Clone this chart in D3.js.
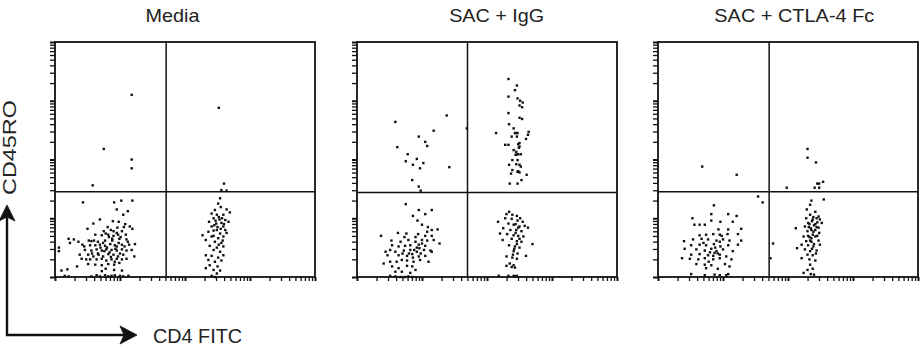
<!DOCTYPE html>
<html><head><meta charset="utf-8">
<script src="https://cdn.jsdelivr.net/npm/d3@7"></script>
<style>html,body{margin:0;padding:0;background:#fff;}svg{display:block;}</style>
</head><body>
<svg id="chart" width="924" height="352"></svg>
<script>
// ---------- data (log10 fluorescence, decades 0-4) ----------
const panelTitles = ["Media", "SAC + IgG", "SAC + CTLA-4 Fc"];
const xAxisLabel = "CD4 FITC";
const yAxisLabel = "CD45RO";
const decadeRange = [0, 4];
const quadrantX = [1.71, 1.70, 1.71];
const quadrantY = [1.45, 1.44, 1.45];

const mediaPoints = [
 // upper quadrants
 [1.18,3.10],[0.75,2.18],[1.18,2.00],[1.18,1.85],[0.58,1.56],[2.52,2.88],[2.60,1.59],[2.56,1.48],[2.64,1.47],
 // lower left
 [.43,1.27],[.91,1.27],[1.02,1.30],[1.19,1.30],[.95,1.15],[1.12,1.12],[1.05,1.06],[.69,.98],[.59,.91],[.89,.95],[.98,.94],
 [.50,.82],[.81,.85],[1.06,.85],[1.15,.86],[1.19,.82],[.75,.78],[.90,.78],[.95,.75],[1.03,.78],[.62,.72],[.72,.71],[.82,.72],
 [.97,.72],[1.09,.72],[.21,.65],[.29,.64],[.23,.58],[.36,.60],[.42,.55],[.56,.61],[.66,.60],[.77,.62],[.88,.65],[.99,.65],
 [1.10,.64],[.54,.54],[.62,.54],[.69,.55],[.77,.53],[.85,.56],[.92,.54],[1.03,.55],[1.14,.55],[1.23,.56],[.06,.50],[.06,.44],
 [.46,.46],[.56,.45],[.64,.47],[.72,.45],[.79,.47],[.87,.46],[.95,.45],[1.03,.47],[1.10,.45],[1.18,.46],[.38,.38],[.51,.38],
 [.59,.35],[.67,.38],[.74,.35],[.82,.39],[.90,.38],[.97,.35],[1.05,.38],[1.22,.35],[.41,.31],[.54,.30],[.64,.30],[.72,.31],
 [.79,.28],[.87,.30],[.95,.31],[1.03,.30],[1.10,.31],[.51,.22],[.62,.21],[.72,.20],[.82,.22],[.91,.21],[.34,.18],[.78,.14],
 [.10,.11],[.19,.13],[.72,.10],[.91,.12],[1.03,.11],[.15,.02],[.21,.01],[.56,.01],[.64,.03],[.69,.01],[.77,.03],[.82,.01],
 [.87,.02],[.92,.03],[1.00,.02],[1.05,.01],[1.13,.02],
 [.80,.50],[.84,.42],[.88,.62],[.93,.48],[.98,.58],[1.00,.40],[1.07,.52],[.76,.44],[.70,.50],[.66,.40],[.86,.34],[.92,.26],
 [.99,.24],[.83,.68],[.90,.70],[1.01,.68],[.60,.62],[.74,.58],[.95,.52],[1.12,.60],[.57,.40],[.48,.30],[.45,.52],[.52,.62],
 [.78,.74],[.86,.80],[1.08,.90],[.96,.84],
 // lower right
 [2.54,1.34],[2.51,1.25],[2.55,1.19],[2.46,1.14],[2.64,1.15],[2.41,1.08],[2.49,1.06],[2.59,1.06],[2.69,1.10],[2.44,1.00],
 [2.53,.98],[2.62,.97],[2.37,.94],[2.48,.91],[2.56,.92],[2.67,.94],[2.41,.86],[2.50,.85],[2.59,.86],[2.36,.77],[2.44,.79],
 [2.54,.74],[2.64,.75],[2.27,.71],[2.41,.69],[2.51,.66],[2.59,.69],[2.32,.63],[2.46,.60],[2.56,.58],[2.38,.53],[2.49,.50],
 [2.59,.52],[2.44,.46],[2.54,.43],[2.32,.37],[2.41,.36],[2.51,.33],[2.59,.37],[2.36,.29],[2.46,.26],[2.56,.28],[2.38,.20],
 [2.50,.18],[2.32,.15],[2.44,.12],[2.54,.11],[2.49,.06],[2.41,.02],[2.46,0],
 [2.52,1.02],[2.57,1.00],[2.47,.96],[2.60,.90],[2.45,.88],[2.55,.82],[2.49,.80],[2.62,.80],[2.58,.62],[2.52,.55],[2.44,.70]
];

const sacIgGPoints = [
 // upper left
 [.59,2.64],[1.38,2.75],[1.18,2.49],[.62,2.21],[.95,2.39],[1.05,2.30],[1.08,2.23],[.78,2.09],[.92,2.01],[.75,1.97],[.86,1.91],
 [1.02,1.94],[.97,1.85],[1.42,1.87],[.85,1.65],[.95,1.54],[.98,1.47],[1.69,2.53],
 // upper right
 [2.33,3.37],[2.46,3.26],[2.43,3.18],[2.33,3.07],[2.47,3.04],[2.51,3.00],[2.55,2.97],[2.50,2.92],[2.54,2.89],[2.33,2.79],
 [2.50,2.71],[2.54,2.69],[2.34,2.60],[2.41,2.53],[2.14,2.45],[2.43,2.45],[2.47,2.45],[2.64,2.47],[2.63,2.42],[2.38,2.39],
 [2.46,2.39],[2.60,2.35],[2.28,2.25],[2.33,2.25],[2.50,2.28],[2.50,2.22],[2.41,2.16],[2.45,2.13],[2.48,2.09],[2.52,2.09],
 [2.39,1.99],[2.47,1.99],[2.45,1.92],[2.34,1.91],[2.50,1.91],[2.52,1.88],[2.39,1.82],[2.47,1.79],[2.50,1.78],[2.37,1.76],
 [2.61,1.74],[2.35,1.59],[2.47,1.59],[2.53,1.65],[2.44,2.45],[2.48,2.26],[2.49,2.20],[2.44,2.08],[2.45,2.08],[2.48,1.80],
 // lower left
 [.75,1.24],[.95,1.14],[.86,1.04],[1.05,1.07],[.93,.96],[1.15,1.14],[1.00,.89],[1.09,.85],[1.08,.77],[1.15,.80],[1.24,.81],
 [.63,.75],[.76,.74],[.94,.73],[.73,.68],[1.05,.70],[1.15,.70],[.37,.70],[.53,.62],[.67,.60],[.79,.63],[.90,.60],[1.00,.57],
 [1.08,.62],[1.18,.63],[.54,.54],[.64,.52],[.74,.53],[.82,.54],[.92,.50],[1.05,.53],[1.27,.57],[.44,.43],[.51,.46],[.59,.43],
 [.72,.45],[.82,.46],[.92,.43],[1.03,.46],[1.13,.45],[.47,.37],[.64,.37],[.77,.36],[.85,.39],[.95,.35],[1.05,.36],[1.15,.43],
 [.41,.23],[.51,.26],[.61,.26],[.69,.29],[.77,.28],[.87,.26],[.97,.29],[1.10,.26],[.54,.18],[.64,.15],[.77,.19],[.85,.18],
 [.90,.12],[.59,.09],[.69,.09],[.82,.07],[.51,.02],[.59,.01],[.67,0],[.74,0],[.79,.01],[.85,0],
 [.88,.46],[.95,.55],[.98,.40],[.86,.33],[.80,.40],[.70,.40],[1.00,.63],[.90,.68],[.96,.49],
 // lower right
 [2.34,1.11],[2.30,1.07],[2.39,1.06],[2.46,1.04],[2.28,1.00],[2.38,.99],[2.47,.96],[2.55,.94],[2.51,1.00],[2.17,.94],[2.33,.91],
 [2.41,.89],[2.50,.86],[2.58,.87],[2.25,.83],[2.36,.80],[2.45,.80],[2.53,.78],[2.63,.84],[2.20,.74],[2.31,.73],[2.41,.71],
 [2.48,.70],[2.56,.69],[2.24,.63],[2.38,.65],[2.46,.61],[2.53,.60],[2.70,.56],[2.34,.54],[2.43,.52],[2.50,.50],[2.41,.44],
 [2.47,.40],[2.60,.36],[2.30,.35],[2.39,.33],[2.46,.31],[2.35,.23],[2.41,.20],[2.30,.19],[2.38,.17],[2.43,.16],[2.33,.02],
 [2.41,.02],[2.43,.01],[2.46,.02],[2.18,.02],
 [2.44,.90],[2.48,.84],[2.44,.75],[2.50,.65],[2.46,.56],[2.42,.48],[2.40,.38]
];

const sacCtlaPoints = [
 // upper / border points
 [.68,1.88],[1.21,1.74],[1.54,1.37],[1.61,1.27],[1.98,1.52],[2.30,2.18],[2.30,2.03],[2.43,1.95],[2.45,1.59],[2.48,1.59],
 [2.54,1.62],[2.41,1.52],[2.48,1.52],[1.77,.57],[1.73,.32],
 // lower left
 [.86,1.22],[.82,1.07],[1.08,1.07],[1.21,1.04],[.53,1.00],[.82,.96],[.96,.94],[1.15,.94],[.56,.89],[.64,.89],[.72,.89],
 [.93,.81],[1.08,.81],[1.28,.82],[.64,.71],[.74,.72],[.85,.73],[.95,.72],[1.07,.73],[1.23,.73],[.54,.64],[.67,.65],[.77,.64],
 [.90,.62],[1.00,.64],[1.10,.62],[.40,.61],[1.28,.62],[.51,.54],[.64,.55],[.74,.54],[.86,.56],[.96,.52],[1.08,.54],[1.23,.55],
 [.41,.48],[.59,.47],[.72,.45],[.82,.48],[.90,.44],[1.00,.47],[1.15,.44],[.51,.38],[.64,.39],[.77,.37],[.87,.41],[.95,.38],
 [1.05,.35],[.37,.32],[.49,.31],[.62,.30],[.72,.32],[.85,.30],[.95,.32],[1.13,.30],[.59,.22],[.72,.21],[.82,.20],[1.03,.22],
 [.74,.15],[.92,.14],[1.10,.18],[.51,.05],[.72,.03],[.87,.04],[.95,.03],[1.05,.03],[1.08,.05],
 [.88,.50],[.92,.40],[.85,.36],[.80,.42],[.95,.60],[.70,.58],[.98,.70],[.78,.26],
 // lower right
 [2.36,1.30],[2.34,1.23],[2.55,1.32],[2.29,1.15],[2.42,1.11],[2.34,1.06],[2.47,1.03],[2.28,1.00],[2.38,.98],[2.49,.98],
 [2.31,.92],[2.42,.90],[2.52,.92],[2.12,.83],[2.26,.86],[2.35,.83],[2.44,.85],[2.30,.78],[2.39,.77],[2.48,.75],[2.24,.69],
 [2.33,.68],[2.42,.69],[2.28,.61],[2.36,.60],[2.47,.62],[2.21,.55],[2.31,.54],[2.39,.52],[2.49,.55],[2.14,.49],[2.26,.47],
 [2.34,.44],[2.44,.45],[2.30,.38],[2.38,.37],[2.21,.32],[2.33,.30],[2.42,.28],[2.34,.21],[2.38,.14],[2.30,.12],[2.24,.07],
 [2.35,.05],[2.40,.04],
 [2.37,.95],[2.40,.88],[2.45,.93],[2.36,.80],[2.33,.90],[2.42,.80],[2.38,.72],[2.45,.70],[2.34,.62],[2.40,.56],[2.37,.48],
 [2.43,.40],[2.32,.85],[2.39,1.02],[2.44,1.00],[2.31,.70],[2.47,.84],[2.36,.66]
];

const panelPoints = [mediaPoints, sacIgGPoints, sacCtlaPoints];

// ---------- layout ----------
const panelLefts = [55, 357, 658];
const panelW = 260, panelTop = 42, panelBottom = 277;
const titleCenters = [172.5, 496.7, 794.3];
const titleWidths = [54, 95, 160];

const svg = d3.select("#chart");
const ink = "#111";

// log-decade tick values
const tickVals = [];
for (let d = 0; d < 4; d++) for (let k = 1; k <= 9; k++) tickVals.push(d + Math.log10(k));
tickVals.push(4);
const isMajor = v => Math.abs(v - Math.round(v)) < 1e-9;

panelPoints.forEach((pts, i) => {
  const x = d3.scaleLinear().domain(decadeRange).range([panelLefts[i], panelLefts[i] + panelW]);
  const y = d3.scaleLinear().domain(decadeRange).range([panelBottom, panelTop]);
  const g = svg.append("g");

  // ticks
  const yAx = g.append("g").attr("transform", `translate(${panelLefts[i]},0)`)
    .call(d3.axisLeft(y).tickValues(tickVals).tickSize(5).tickFormat(""));
  const xAx = g.append("g").attr("transform", `translate(0,${panelBottom})`)
    .call(d3.axisBottom(x).tickValues(tickVals).tickSize(4).tickFormat(""));
  [yAx, xAx].forEach(ax => {
    ax.select(".domain").remove();
    ax.selectAll(".tick line").attr("stroke", ink)
      .attr("stroke-width", d => isMajor(d) ? 2 : 1.3);
  });

  // frame
  g.append("rect").attr("x", x(0)).attr("y", y(4))
    .attr("width", x(4) - x(0)).attr("height", y(0) - y(4))
    .attr("fill", "none").attr("stroke", ink).attr("stroke-width", 1.8);

  // quadrant lines
  g.append("line").attr("x1", x(quadrantX[i])).attr("x2", x(quadrantX[i]))
    .attr("y1", y(4)).attr("y2", y(0)).attr("stroke", ink).attr("stroke-width", 1.5);
  g.append("line").attr("x1", x(0)).attr("x2", x(4))
    .attr("y1", y(quadrantY[i])).attr("y2", y(quadrantY[i])).attr("stroke", ink).attr("stroke-width", 1.5);

  // dots
  g.selectAll("rect.dot").data(pts).enter().append("rect").attr("class", "dot")
    .attr("x", d => x(d[0]) - 1.2).attr("y", d => y(d[1]) - 1.2)
    .attr("width", 2.4).attr("height", 2.4).attr("fill", ink);

  // title
  svg.append("text").attr("x", titleCenters[i]).attr("y", 22)
    .attr("text-anchor", "middle")
    .attr("font-family", "Liberation Sans, Arial, sans-serif")
    .attr("font-size", 18.5).attr("fill", "#222")
    .attr("textLength", titleWidths[i]).attr("lengthAdjust", "spacingAndGlyphs")
    .text(panelTitles[i]);
});

// axis arrows
const arrow = svg.append("g").attr("stroke", ink).attr("fill", ink);
arrow.append("path").attr("d", "M7,215 L7,335 L125,335").attr("fill", "none").attr("stroke-width", 2.4);
arrow.append("path").attr("d", "M7,205 L15,221 L7,217 L-1,221 Z").attr("stroke-width", 0.8);
arrow.append("path").attr("d", "M137,335 L120,326 L124,335 L120,344 Z").attr("stroke-width", 0.8);

svg.append("text").attr("x", 153).attr("y", 343)
  .attr("font-family", "Liberation Sans, Arial, sans-serif").attr("font-size", 20).attr("fill", "#222")
  .attr("textLength", 89).attr("lengthAdjust", "spacingAndGlyphs")
  .text(xAxisLabel);

svg.append("text").attr("transform", "translate(16,195) rotate(-90)")
  .attr("font-family", "Liberation Sans, Arial, sans-serif").attr("font-size", 19).attr("fill", "#222")
  .attr("textLength", 95).attr("lengthAdjust", "spacingAndGlyphs")
  .text(yAxisLabel);
</script>
</body></html>
